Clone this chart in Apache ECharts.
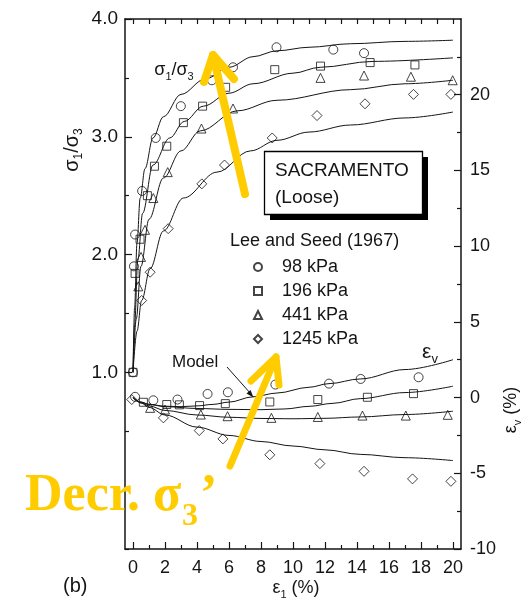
<!DOCTYPE html>
<html>
<head>
<meta charset="utf-8">
<style>
  html, body { margin: 0; padding: 0; background: #fff; }
  #main { width: 525px; height: 603px; }
</style>
<script src="https://cdn.jsdelivr.net/npm/echarts@6/dist/echarts.min.js"></script>
</head>
<body>
<div id="main"></div>
<script>
const pressures = ["98 kPa", "196 kPa", "441 kPa", "1245 kPa"];
const symbols = ["circle", "rect", "triangle", "diamond"];
const symbolSizes = [9, 8, 9, 10];

// Lee and Seed (1967) measured sigma1/sigma3 against eps1 (%)
const ratio98 = [[0, 1.0], [0.06, 1.9], [0.13, 2.17], [0.57, 2.54], [1.42, 2.99], [2.99, 3.26], [4.93, 3.48], [6.25, 3.59], [8.97, 3.76], [12.52, 3.74], [14.44, 3.71]];
const ratio196 = [[0, 1.0], [0.13, 1.84], [0.44, 2.13], [0.9, 2.5], [1.34, 2.75], [2.11, 2.92], [3.15, 3.12], [4.35, 3.26], [5.79, 3.42], [8.86, 3.57], [11.72, 3.6], [14.82, 3.63], [17.62, 3.61]];
const ratio441 = [[0.33, 1.73], [0.5, 1.98], [0.75, 2.21], [1.27, 2.48], [2.17, 2.7], [4.28, 3.07], [6.25, 3.24], [11.72, 3.5], [14.44, 3.52], [17.37, 3.51], [19.98, 3.48]];
const ratio1245 = [[0.54, 1.61], [1.07, 1.85], [2.2, 2.22], [4.3, 2.6], [5.72, 2.76], [8.7, 2.99], [11.5, 3.18], [14.5, 3.28], [17.53, 3.36], [19.87, 3.36]];

// model curves, sigma1/sigma3
const modelRatio98 = [[0, 1.0], [0.1, 1.55], [0.25, 2.1], [0.45, 2.48], [0.75, 2.73], [1.25, 2.99], [1.9, 3.17], [3.0, 3.36], [4.5, 3.49], [6, 3.59], [7.5, 3.68], [9, 3.73], [11, 3.76], [13.6, 3.79], [17, 3.81], [20, 3.82]];
const modelRatio196 = [[0, 1.0], [0.1, 1.4], [0.3, 1.95], [0.6, 2.35], [1.25, 2.76], [2.3, 2.99], [3.2, 3.13], [4.4, 3.26], [6, 3.37], [7.5, 3.45], [10, 3.54], [11.7, 3.59], [15, 3.64], [20, 3.67]];
const modelRatio441 = [[0, 1.0], [0.2, 1.45], [0.5, 1.9], [1, 2.3], [1.9, 2.65], [3, 2.88], [4.2, 3.05], [6.5, 3.22], [9, 3.31], [13.6, 3.4], [17, 3.45], [20, 3.48]];
const modelRatio1245 = [[0, 1.0], [0.25, 1.35], [0.54, 1.61], [1.07, 1.88], [1.9, 2.2], [3.15, 2.48], [5.25, 2.7], [7.34, 2.88], [9, 2.97], [11, 3.04], [13.6, 3.1], [17, 3.16], [20, 3.21]];

// measured volumetric strain eps_v (%)
const ev98 = [[0.13, 0.05], [1.27, -0.18], [2.78, -0.13], [4.66, 0.24], [5.93, 0.35], [8.9, 0.86], [12.25, 0.92], [14.23, 1.23], [17.85, 1.34]];
const ev196 = [[0.65, -0.31], [2.11, -0.46], [2.9, -0.48], [4.16, -0.53], [5.77, -0.4], [8.55, -0.29], [11.55, -0.13], [14.65, 0.02], [17.53, 0.26]];
const ev441 = [[1.07, -0.68], [2.0, -0.79], [4.24, -1.12], [5.91, -1.23], [8.65, -1.34], [11.55, -1.28], [14.34, -1.19], [17.05, -1.19], [19.67, -1.14]];
const ev1245 = [[-0.08, -0.13], [1.9, -1.34], [4.14, -2.18], [5.62, -2.73], [8.55, -3.78], [11.68, -4.36], [14.44, -4.87], [17.47, -5.37], [19.87, -5.53]];

// model curves, eps_v
const modelEv98 = [[0, 0], [0.5, -0.3], [1, -0.45], [2, -0.57], [3, -0.6], [4, -0.55], [5, -0.45], [6, -0.3], [7.5, 0.05], [9, 0.3], [11, 0.68], [12.25, 0.92], [14.2, 1.23], [17, 1.85], [20, 2.5]];
const modelEv196 = [[0, 0], [0.5, -0.3], [1, -0.45], [2, -0.6], [4, -0.72], [6, -0.78], [8, -0.8], [9.5, -0.75], [11, -0.58], [12.5, -0.38], [14.2, -0.07], [17, 0.33], [20, 0.75]];
const modelEv441 = [[0, 0], [0.5, -0.35], [1, -0.55], [2, -0.85], [4, -1.15], [6, -1.3], [8, -1.38], [10, -1.4], [12, -1.37], [14.2, -1.28], [17, -1.12], [20, -0.9]];
const modelEv1245 = [[0, 0], [0.5, -0.35], [1, -0.65], [2, -1.15], [4, -1.95], [6, -2.5], [8, -2.9], [10, -3.2], [12, -3.45], [14.2, -3.75], [17, -3.97], [20, -4.16]];

// ticks and labels
const xLabels = [0, 2, 4, 6, 8, 10, 12, 14, 16, 18, 20];
const xMinorTicks = [1, 3, 5, 7, 9, 11, 13, 15, 17, 19];
const xTopTicks = [0, 1, 2, 3, 4, 5, 6, 7, 8, 9, 10, 11, 12, 13, 14, 15, 16, 17, 18, 19, 20];
const ratioLabels = [1, 2, 3, 4];
const ratioMinorTicks = [-0.5, 0, 0.5, 1.5, 2.5, 3.5];
const evLabels = [-10, -5, 0, 5, 10, 15, 20];
const evMinorTicks = [-7.5, -2.5, 2.5, 7.5, 12.5, 17.5, 22.5];

const ratioData = [ratio98, ratio196, ratio441, ratio1245];
const ratioModels = [modelRatio98, modelRatio196, modelRatio441, modelRatio1245];
const evData = [ev98, ev196, ev441, ev1245];
const evModels = [modelEv98, modelEv196, modelEv441, modelEv1245];

const font = "Liberation Sans, Arial, Helvetica, sans-serif";
const serif = "Liberation Serif, Times New Roman, serif";
const ink = "#151515";
const yellow = "#FFCC00";
const axisLineStyle = { color: ink, width: 1.5 };

function valueAxis(position, min, max, opts) {
  return {
    type: "value",
    position: position,
    min: min,
    max: max,
    axisLine: { show: opts.line !== false, onZero: false, lineStyle: axisLineStyle },
    axisTick: { show: true, inside: true, length: opts.tickLength, customValues: opts.ticks, lineStyle: { color: ink, width: 1.2 } },
    axisLabel: opts.labels
      ? { show: true, customValues: opts.labels, formatter: opts.formatter, fontSize: opts.fontSize || 18, fontFamily: font, color: ink, margin: opts.margin || 9 }
      : { show: false },
    splitLine: { show: false },
  };
}

function scatterSeries(name, data, i, yIndex) {
  return {
    name: name,
    type: "scatter",
    yAxisIndex: yIndex,
    data: data,
    symbol: symbols[i],
    symbolSize: symbolSizes[i],
    itemStyle: { color: "rgba(255,255,255,0)", borderColor: ink, borderWidth: 1 },
    z: 4,
  };
}

function modelSeries(data, yIndex) {
  return {
    name: "Model",
    type: "line",
    yAxisIndex: yIndex,
    data: data,
    smooth: 0.35,
    smoothMonotone: "x",
    showSymbol: false,
    lineStyle: { color: ink, width: 1 },
    silent: true,
    z: 3,
  };
}

// parts: list of [text, isSubscript]
function richLabel(x, y, parts, size, rotation) {
  const text = parts.map(function (p) { return (p[1] ? "{s|" : "{m|") + p[0] + "}"; }).join("");
  const sub = Math.round(size * 0.62);
  return {
    type: "text",
    x: x,
    y: y,
    rotation: rotation || 0,
    z: 20,
    style: {
      text: text,
      align: "center",
      verticalAlign: "middle",
      rich: {
        m: { fontSize: size, fontFamily: font, fill: ink, lineHeight: size + 6 },
        s: { fontSize: sub, fontFamily: font, fill: ink, verticalAlign: "bottom", lineHeight: sub },
      },
    },
  };
}

function plainText(x, y, text, size) {
  return {
    type: "text",
    x: x,
    y: y,
    z: 20,
    style: { text: text, fontSize: size, fontFamily: font, fill: ink, align: "left", verticalAlign: "middle" },
  };
}

function yellowArrow(tail, tip, left, right, width) {
  const style = { stroke: yellow, lineWidth: width, lineCap: "round", lineJoin: "round", fill: null };
  return [
    { type: "polyline", z: 30, shape: { points: [tail, tip] }, style: style },
    { type: "polyline", z: 30, shape: { points: [left, tip, right] }, style: style },
  ];
}

function buildOption() {
  const series = [];
  pressures.forEach(function (name, i) {
    series.push(scatterSeries(name, ratioData[i], i, 0));
    series.push(modelSeries(ratioModels[i], 0));
    series.push(scatterSeries(name, evData[i], i, 1));
    series.push(modelSeries(evModels[i], 1));
  });

  const sigmaRatio = [["σ", false], ["1", true], ["/σ", false], ["3", true]];

  const graphic = [
    // axis titles
    richLabel(72, 150, sigmaRatio, 20, Math.PI / 2),
    richLabel(511, 410, [["ε", false], ["v", true], [" (%)", false]], 18, Math.PI / 2),
    richLabel(296, 588, [["ε", false], ["1", true], [" (%)", false]], 18, 0),
    plainText(63, 586, "(b)", 20),
    // in-plot labels
    richLabel(174, 70, sigmaRatio, 18, 0),
    richLabel(430, 352, [["ε", false], ["v", true]], 21, 0),
    // sample box with shadow
    { type: "rect", z: 10, shape: { x: 270, y: 157, width: 158, height: 63 }, style: { fill: "#000" } },
    { type: "rect", z: 11, shape: { x: 264.5, y: 151.5, width: 158, height: 63 }, style: { fill: "#fff", stroke: "#000", lineWidth: 1.3 } },
    plainText(275, 171, "SACRAMENTO", 19),
    plainText(275, 198, "(Loose)", 19),
    plainText(230, 241, "Lee and Seed (1967)", 18),
    // model pointer
    plainText(172, 362, "Model", 17),
    { type: "polyline", z: 20, shape: { points: [[227, 367], [251, 394]] }, style: { stroke: ink, lineWidth: 1, fill: null } },
    { type: "polygon", z: 20, shape: { points: [[253.5, 397.5], [246.5, 393.5], [250.5, 390]] }, style: { fill: ink } },
  ];

  // yellow annotation arrows
  yellowArrow([245, 194], [213, 55], [204, 82], [234, 79], 8).forEach(function (g) { graphic.push(g); });
  yellowArrow([230, 466], [276, 357], [251, 381], [279, 385], 7).forEach(function (g) { graphic.push(g); });

  const decrStyle = { fontFamily: serif, fontWeight: "bold", fill: yellow, align: "left", verticalAlign: "middle" };
  graphic.push({ type: "text", x: 25, y: 497, z: 30, style: Object.assign({ text: "Decr. σ", fontSize: 52 }, decrStyle) });
  graphic.push({ type: "text", x: 182, y: 517, z: 30, style: Object.assign({ text: "3", fontSize: 32 }, decrStyle) });
  graphic.push({ type: "text", x: 200, y: 497, z: 30, style: Object.assign({ text: "’", fontSize: 52 }, decrStyle) });

  return {
    animation: false,
    backgroundColor: "#fff",
    grid: { left: 125, top: 19, right: 64, bottom: 54 },
    xAxis: [
      valueAxis("bottom", -0.5, 20.5, { ticks: xLabels, tickLength: 7, labels: xLabels, margin: 10 }),
      valueAxis("top", -0.5, 20.5, { ticks: xTopTicks, tickLength: 5 }),
      valueAxis("bottom", -0.5, 20.5, { ticks: xMinorTicks, tickLength: 4, line: false }),
    ],
    yAxis: [
      valueAxis("left", -0.5, 4, { ticks: ratioLabels, tickLength: 7, labels: ratioLabels, fontSize: 19, margin: 7, formatter: function (v) { return v.toFixed(1); } }),
      valueAxis("right", -10, 25, { ticks: evLabels, tickLength: 7, labels: evLabels, margin: 9 }),
      valueAxis("left", -0.5, 4, { ticks: ratioMinorTicks, tickLength: 4, line: false }),
      valueAxis("right", -10, 25, { ticks: evMinorTicks, tickLength: 4, line: false }),
    ],
    legend: {
      data: pressures,
      orient: "vertical",
      left: 248,
      top: 253,
      itemWidth: 8,
      itemHeight: 8,
      itemGap: 6,
      selectedMode: false,
      textStyle: { fontSize: 18, fontFamily: font, color: ink, padding: [0, 0, 0, 15] },
    },
    series: series,
    graphic: graphic,
  };
}

function initChart(element) {
  if (!element) return;
  const chart = echarts.init(element, null, { renderer: "canvas" });
  chart.setOption(buildOption());
  return chart;
}

initChart(document.getElementById("main"));
</script>
</body>
</html>
